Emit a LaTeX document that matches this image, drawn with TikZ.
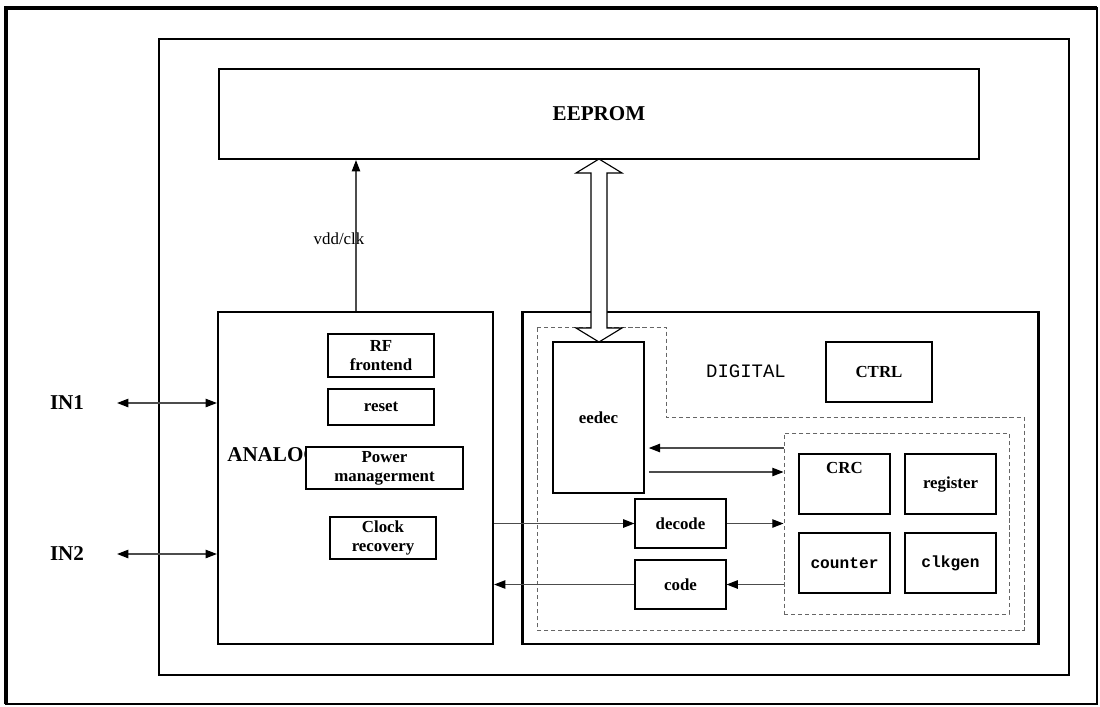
\documentclass[tikz,border=0pt]{standalone}
\usepackage{fontspec}
\setmainfont{Liberation Serif}
\setmonofont{Liberation Mono}
\usetikzlibrary{arrows.meta}
\newcommand{\px}{0.025cm}
\tikzset{
  >={Triangle[length=8pt,width=6pt,color=black]},
  dim/.style 2 args={minimum width=#1*\px, minimum height=#2*\px},
  blk/.style={draw, line width=1.6pt, fill=white, inner sep=0pt},
  subfont/.style={font=\fontsize{12}{13.5}\selectfont\bfseries},
  sub/.style={draw, line width=0.8pt, fill=white, inner sep=0pt, align=center, subfont},
  monofont/.style={font=\fontsize{11.5}{13}\selectfont\ttfamily\bfseries},
  big/.style={font=\fontsize{15}{16}\selectfont\bfseries},
  sig/.style={draw=black!70, line width=0.8pt, ->},
  grp/.style={draw=black!60, line width=0.7pt, dash pattern=on 3pt off 2pt},
}
\begin{document}
\begin{tikzpicture}[x=\px, y=-\px]
\useasboundingbox (0,0) rectangle (1100,706);

% frames
\draw[line width=0.8pt] (6,8) rectangle (1097,704);
\draw[line width=2.6pt] (6,704) -- (6,8) -- (1097,8);
\draw[line width=1.6pt] (159,39) rectangle (1069,675);

% EEPROM
\node[blk, dim={760}{90}, big] (eeprom) at (599,114) {EEPROM};

% analog part
\node[blk, dim={275}{332}] (analog) at (355.5,478) {};
\node[big, anchor=west, inner sep=0pt] (analoglbl) at (227,455) {ANALOG};
\node[sub, dim={106}{43}] (rf) at (381,355.5) {RF\\frontend};
\node[sub, dim={106}{36}] (reset) at (381,407) {reset};
\node[sub, dim={157}{42}] (power) at (384.5,468) {Power\\managerment};
\node[sub, dim={106}{42}] (clockrec) at (383,538) {Clock\\recovery};

% digital part
\node[blk, dim={516}{332}] (digital) at (780.5,478) {};
\draw[grp] (537,327) -- (666,327) -- (666,417) -- (1024,417) -- (1024,630) -- (537,630) -- cycle;
\node[grp, dim={225}{181}, inner sep=0pt] (core) at (896.5,523.5) {};
\node[font=\fontsize{13.5}{14}\selectfont\ttfamily] (diglbl) at (746,371) {DIGITAL};
\node[sub, dim={106}{60}] (ctrl) at (879,372) {CTRL};
\node[sub, dim={91}{151}] (eedec) at (598.5,417.5) {eedec};
\node[sub, dim={91}{60}, label={[subfont, anchor=north, yshift=-3pt]north:CRC}] (crc) at (844.5,484) {};
\node[sub, dim={91}{60}] (register) at (950.5,484) {register};
\node[sub, dim={91}{60}, monofont] (counter) at (844.5,563) {counter};
\node[sub, dim={91}{60}, monofont] (clkgen) at (950.5,563) {clkgen};
\node[sub, dim={91}{49}] (decode) at (680.5,523.5) {decode};
\node[sub, dim={91}{49}] (code) at (680.5,584.5) {code};

% bus between EEPROM and eedec
\draw[line width=0.8pt, fill=white] (599,159) -- (622,173) -- (607,173) -- (607,328) -- (622,328)
  -- (599,342) -- (576,328) -- (591,328) -- (591,173) -- (576,173) -- cycle;

% vdd/clk
\coordinate (vddx) at (356,0);
\draw[sig] (vddx |- analog.north) -- (vddx |- eeprom.south);
\node[font=\fontsize{12}{13}\selectfont] (vddlbl) at (339,239) {vdd/clk};

% inputs
\node[big] (in1) at (67,403) {IN1};
\node[big] (in2) at (67,554) {IN2};
\draw[sig, <->] ([xshift=20pt]in1.east) -- (analog.west |- in1);
\draw[sig, <->] ([xshift=20pt]in2.east) -- (analog.west |- in2);

% signals
\draw[sig, shorten >=3pt] (core.west |- 0,448) -- (eedec.east |- 0,448);
\draw[sig, shorten <=3pt] (eedec.east |- 0,472) -- (core.west |- 0,472);
\draw[sig] (analog.east |- decode) -- (decode.west);
\draw[sig] (decode.east) -- (core.west |- decode);
\draw[sig] (core.west |- code) -- (code.east);
\draw[sig] (code.west) -- (analog.east |- code);
\end{tikzpicture}
\end{document}
